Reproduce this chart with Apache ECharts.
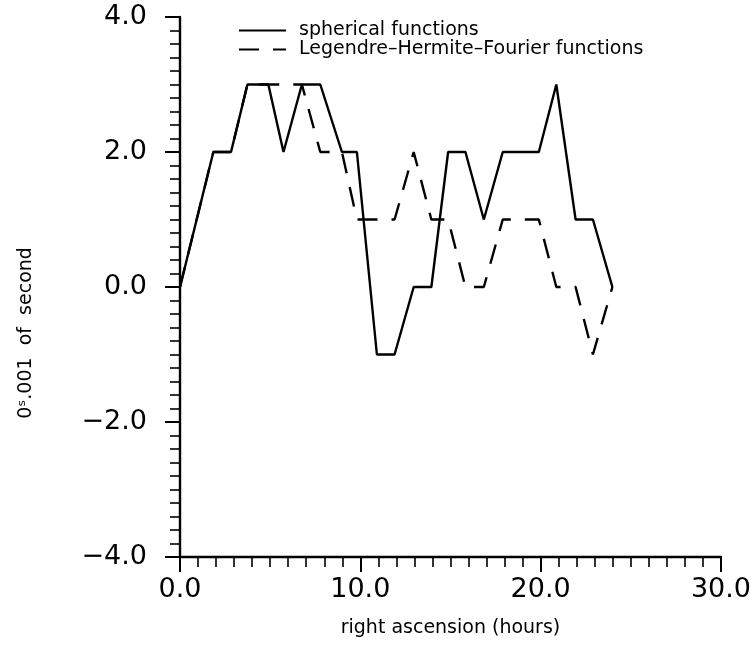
<!DOCTYPE html>
<html>
<head>
<meta charset="utf-8">
<script src="https://cdn.jsdelivr.net/npm/echarts@6/dist/echarts.min.js"></script>
<style>
    html, body { margin: 0; padding: 0; background: #fff; }
    #main { width: 754px; height: 646px; }
</style>
</head>
<body>
<div id="main"></div>
<script type="text/javascript">
    // data (hours, 0.001 s)
    var hours = [0, 1.85, 2.83, 3.74, 4.9, 5.74, 6.76, 7.78, 8.98, 9.81, 10.92, 11.9,
                 12.96, 13.94, 14.87, 15.83, 16.85, 17.9, 19.9, 20.87, 21.94, 22.9, 23.98];
    var spherical = [0, 2, 2, 3, 3, 2, 3, 3, 2, 2, -1, -1, 0, 0, 2, 2, 1, 2, 2, 3, 1, 1, 0];
    var lhf = [0, 2, 2, 3, 3, 3, 3, 2, 2, 1, 1, 1, 2, 1, 1, 0, 0, 1, 1, 0, 0, -1, 0];
    var seriesNames = ['spherical functions', 'Legendre\u2013Hermite\u2013Fourier functions'];
    var xTicks = [0, 10, 20, 30];
    var yTicks = [-4, -2, 0, 2, 4];

    function pairs(xs, ys) {
        var out = [];
        for (var i = 0; i < xs.length; i++) out.push([xs[i], ys[i]]);
        return out;
    }
    function fmt(v) {
        var s = Math.abs(v).toFixed(1);
        return v < 0 ? '\u2212' + s : s;
    }

    var font = 'DejaVu Sans';
    var myChart = echarts.init(document.getElementById('main'));
    var option = {
        backgroundColor: '#fff',
        animation: false,
        grid: { left: 180, right: 31, top: 17, bottom: 89, containLabel: false },
        legend: {
            orient: 'vertical',
            left: 238,
            top: 21,
            padding: 0,
            itemWidth: 47,
            itemHeight: 10,
            itemGap: 0,
            itemStyle: { opacity: 0 },
            textStyle: { fontFamily: font, fontSize: 19, color: '#000', lineHeight: 18, padding: [0, 0, 0, 8] },
            data: seriesNames
        },
        xAxis: {
            type: 'value',
            min: xTicks[0],
            max: xTicks[xTicks.length - 1],
            interval: 10,
            splitLine: { show: false },
            axisLine: { onZero: false, lineStyle: { color: '#000', width: 2.4 } },
            axisTick: { length: 15, lineStyle: { color: '#000', width: 2 } },
            minorTick: { show: true, splitNumber: 10, length: 10, lineStyle: { color: '#000', width: 1.6 } },
            axisLabel: { formatter: fmt, fontFamily: font, fontSize: 27, color: '#000', margin: 19 },
            name: 'right ascension (hours)',
            nameLocation: 'middle',
            nameGap: 62,
            nameTextStyle: { fontFamily: font, fontSize: 19, color: '#000' }
        },
        yAxis: {
            type: 'value',
            min: yTicks[0],
            max: yTicks[yTicks.length - 1],
            interval: 2,
            splitLine: { show: false },
            axisLine: { onZero: false, lineStyle: { color: '#000', width: 2.4 } },
            axisTick: { length: 15, lineStyle: { color: '#000', width: 2 } },
            minorTick: { show: true, splitNumber: 10, length: 10, lineStyle: { color: '#000', width: 1.6 } },
            axisLabel: { formatter: fmt, fontFamily: font, fontSize: 27, color: '#000', margin: 33 }
        },
        graphic: [{
            type: 'text',
            x: 26,
            y: 333,
            rotation: Math.PI / 2,
            style: {
                text: '0\u02e2.001  of  second',
                font: '19px "DejaVu Sans"',
                fill: '#000',
                align: 'center',
                verticalAlign: 'middle'
            }
        }],
        series: [
            {
                name: seriesNames[0],
                type: 'line',
                data: pairs(hours, spherical),
                showSymbol: false,
                symbol: 'none',
                lineStyle: { color: '#000', width: 2.4 },
                itemStyle: { color: '#000' }
            },
            {
                name: seriesNames[1],
                type: 'line',
                data: pairs(hours, lhf),
                showSymbol: false,
                symbol: 'none',
                lineStyle: { color: '#000', width: 2.4, type: [20, 14] },
                itemStyle: { color: '#000' }
            }
        ]
    };
    myChart.setOption(option);
</script>
</body>
</html>
